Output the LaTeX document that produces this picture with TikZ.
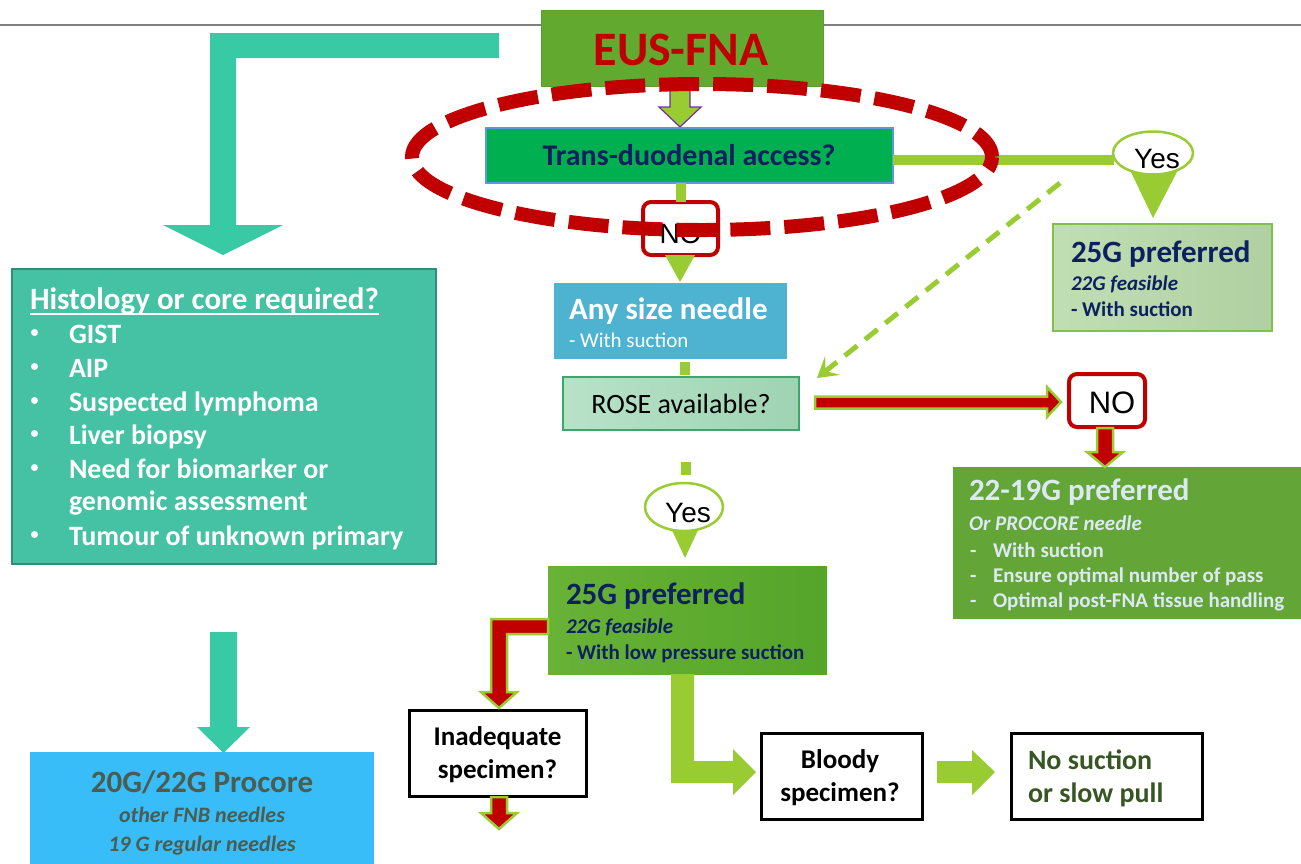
\documentclass[tikz,border=0pt]{standalone}
\usepackage{fontspec}
\setmainfont{Carlito}
\newfontfamily\arialf{Liberation Sans}
\usetikzlibrary{arrows.meta,calc,shapes.geometric}
\definecolor{cTeal}{HTML}{38C9A5}
\definecolor{cHist}{HTML}{45C1A3}
\definecolor{cHistB}{HTML}{2E8F74}
\definecolor{cEus}{HTML}{62AA2F}
\definecolor{cEusB}{HTML}{5A9E2C}
\definecolor{cRed}{HTML}{C00000}
\definecolor{cTD}{HTML}{00B050}
\definecolor{cTDB}{HTML}{5B9BD5}
\definecolor{cNavy}{HTML}{0D2160}
\definecolor{cLG}{HTML}{99CC33}
\definecolor{cPurp}{HTML}{7030A0}
\definecolor{cAny}{HTML}{4EB3D1}
\definecolor{cRoseL}{HTML}{B8E2C8}
\definecolor{cRoseR}{HTML}{9FD3B2}
\definecolor{cRoseB}{HTML}{3BA86B}
\definecolor{cTwA}{HTML}{B9DBAA}
\definecolor{cTwAB}{HTML}{7EC24C}
\definecolor{cTtN}{HTML}{63A537}
\definecolor{cTtNT}{HTML}{DCE9F3}
\definecolor{cTwBL}{HTML}{68B236}
\definecolor{cTwBR}{HTML}{55A52A}
\definecolor{cProc}{HTML}{38BDF8}
\definecolor{cProcT}{HTML}{4B5C50}
\definecolor{cNoS}{HTML}{375623}
\newcommand\fBig{\bfseries\fontsize{31}{36}\selectfont}
\newcommand\fSubB{\bfseries\fontsize{21}{25}\selectfont}
\newcommand\fSubI{\bfseries\itshape\fontsize{21}{25}\selectfont}
\newcommand\fSubR{\fontsize{21}{25}\selectfont}
\newcommand\fBul{\bfseries\fontsize{28}{33}\selectfont}
\newcommand\fQ{\bfseries\fontsize{27}{32}\selectfont}
\newcommand\fYN{\arialf\fontsize{28}{32}\selectfont}
\begin{document}
\begin{tikzpicture}[x=1pt,y=-1pt,
  box/.style={rectangle, anchor=north west, inner sep=0pt, outer sep=0pt},
  lbl/.style={anchor=base west, inner sep=0pt, outer sep=0pt},
  clbl/.style={anchor=base, inner sep=0pt, outer sep=0pt},
  gconn/.style={draw=cLG, line width=10pt},
  redblk/.style={fill=cRed, draw=cLG, line width=2.5pt, line join=miter},
  tealblk/.style={fill=cTeal},
  greenblk/.style={fill=cLG},
  nobox/.style={box, draw=cRed, line width=4pt, rounded corners=8pt, fill=white},
  yesell/.style={ellipse, draw=cLG, line width=2.5pt, fill=white, inner sep=0pt},
  qbox/.style={box, draw=black, line width=3pt, fill=white},
  bulletdot/.style={circle, fill=white, minimum size=7pt, inner sep=0pt}
]
\useasboundingbox (0,0) rectangle (1301,863);

% top rule
\coordinate (ruleL) at (0,25);
\coordinate (ruleR) at (1301,25);
\draw[draw=gray, line width=1.5pt] (ruleL) -- (ruleR);

% teal arrows
\fill[tealblk] (499,33) -- (210,33) -- (210,225) -- (163,225) -- (223,255) -- (283,225) -- (236,225) -- (236,58) -- (499,58) -- cycle;
\fill[tealblk] (210,632) -- (210,727) -- (197,727) -- (223.5,753) -- (250,727) -- (237,727) -- (237,632) -- cycle;

% EUS -> TD arrow
\filldraw[fill=cLG, draw=cPurp, line width=1.2pt] (670,80) -- (670,107) -- (659,107) -- (680,127) -- (701,107) -- (690,107) -- (690,80) -- cycle;

% boxes
\node[box, fill=cEus, draw=cEusB, line width=1pt, minimum width=282pt, minimum height=76pt] (eus) at (541,10) {};
\node[box, fill=cTD, draw=cTDB, line width=1.5pt, minimum width=407pt, minimum height=55pt] (td) at (486,128) {};
\node[box, fill=cHist, draw=cHistB, line width=2.5pt, minimum width=424pt, minimum height=295pt] (hist) at (12,269) {};
\node[box, fill=cAny, minimum width=233pt, minimum height=76pt] (any) at (554,283) {};
\node[box, left color=cRoseL, right color=cRoseR, draw=cRoseB, line width=2pt, minimum width=236pt, minimum height=53pt] (rose) at (563,377) {};
\node[box, left color=cTwA!90!white, right color=cTwA!95!black, draw=cTwAB, line width=2pt, minimum width=219pt, minimum height=107pt] (twa) at (1053,224) {};
\node[box, fill=cTtN, minimum width=350pt, minimum height=152pt] (ttn) at (953,467) {};
\node[box, left color=cTwBL, right color=cTwBR, minimum width=279pt, minimum height=108pt] (twb) at (548,566) {};
\node[qbox, minimum width=177pt, minimum height=86pt] (inad) at (409,710) {};
\node[qbox, minimum width=161pt, minimum height=86pt] (bloody) at (761,733) {};
\node[qbox, minimum width=191pt, minimum height=86pt] (nos) at (1011,733) {};
\node[box, fill=cProc, minimum width=344pt, minimum height=130pt] (proc) at (30,752) {};

% texts
\node[clbl, text=cRed, font=\bfseries\fontsize{48}{52}\selectfont] (eust) at (681,65) {EUS-FNA};
\node[clbl, text=cNavy, font=\bfseries\fontsize{30}{34}\selectfont] (tdt) at (689,165) {Trans-duodenal access?};

\node[lbl, text=white, font=\bfseries\fontsize{31}{36}\selectfont] (histt) at (30,309) {Histology or core required?};
\draw[white, line width=1.8pt] ($(histt.base west)+(0,5)$) -- ($(histt.base east)+(0,5)$);
\foreach \nm/\yy/\tx in {b1/343/GIST, b2/377/AIP, b3/411/Suspected lymphoma, b4/444/Liver biopsy, b5/478/Need for biomarker or, b7/545/Tumour of unknown primary}{
  \node[bulletdot] (\nm d) at (34.5,\yy-10.5) {};
  \node[lbl, text=white, font=\fBul] (\nm) at (69,\yy) {\tx};
}
\node[lbl, text=white, font=\fBul] (b6) at (69,510) {genomic assessment};

\node[lbl, text=white, font=\fBig] (anyt) at (569,319) {Any size needle};
\node[lbl, text=white, font=\fSubR] (anys) at (569,347) {- With suction};
\node[clbl, text=black, font=\fontsize{28}{32}\selectfont] (roset) at (681,413) {ROSE available?};

\node[lbl, text=cNavy, font=\fBig] (twat) at (1071,262) {25G preferred};
\node[lbl, text=cNavy, font=\fSubI] (twaf) at (1071,290) {22G feasible};
\node[lbl, text=cNavy, font=\fSubB] (twas) at (1071,316) {- With suction};

\node[lbl, text=cTtNT, font=\fBig] (ttnt) at (969,500) {22-19G preferred};
\node[lbl, text=cTtNT, font=\fSubI] (ttno) at (969,530) {Or PROCORE needle};
\foreach \nm/\yy/\tx in {l1/557/With suction, l2/582/Ensure optimal number of pass, l3/607/Optimal post-FNA tissue handling}{
  \node[lbl, text=cTtNT, font=\fSubB] (\nm d) at (970,\yy) {-};
  \node[lbl, text=cTtNT, font=\fSubB] (\nm) at (993,\yy) {\tx};
}

\node[lbl, text=cNavy, font=\fBig] (twbt) at (566,604) {25G preferred};
\node[lbl, text=cNavy, font=\fSubI] (twbf) at (566,633) {22G feasible};
\node[lbl, text=cNavy, font=\fSubB] (twbs) at (566,659) {- With low pressure suction};

\node[clbl, font=\fQ] (inad1) at (497.5,745) {Inadequate};
\node[clbl, font=\fQ] (inad2) at (497.5,778) {specimen?};
\node[clbl, font=\fQ] (bl1) at (840,768) {Bloody};
\node[clbl, font=\fQ] (bl2) at (840,801) {specimen?};
\node[lbl, text=cNoS, font=\bfseries\fontsize{28}{32}\selectfont] (nos1) at (1028,769) {No suction};
\node[lbl, text=cNoS, font=\bfseries\fontsize{28}{32}\selectfont] (nos2) at (1028,802) {or slow pull};

\node[clbl, text=cProcT, font=\fBig] (proc1) at (202,792) {20G/22G Procore};
\node[clbl, text=cProcT, font=\bfseries\itshape\fontsize{22}{26}\selectfont] (proc2) at (202,822) {other FNB needles};
\node[clbl, text=cProcT, font=\bfseries\itshape\fontsize{22}{26}\selectfont] (proc3) at (202,851) {19 G regular needles};

% connectors: TD -> NO
\node[nobox, minimum width=75pt, minimum height=53pt] (no1) at (643,202) {};
\draw[gconn] (td.south -| no1.north) -- (no1.north);
\node[clbl, font=\fYN] (no1t) at (680.5,243) {NO};
\fill[greenblk] (665,255) -- (695,255) -- (680,282) -- cycle;

% TD -> Yes
\coordinate (y160) at (0,160);
\fill[greenblk] (1130,170) -- (1178,170) -- (1153,218) -- cycle;
\node[yesell, minimum width=80pt, minimum height=43pt] (yes1) at (1153,153) {};
\draw[gconn] (td.east |- y160) -- ($(yes1.west |- y160)+(2,0)$);
\node[clbl, font=\fYN] (yes1t) at (1157,168) {Yes};

% any -> rose small square
\coordinate (sq1a) at (685,362);
\coordinate (sq1b) at (685,375);
\draw[gconn] (sq1a) -- (sq1b);
% rose -> yes2
\coordinate (sq2a) at (686,462);
\coordinate (sq2b) at (686,475);
\draw[gconn] (sq2a) -- (sq2b);
\fill[greenblk] (670,526) -- (700,526) -- (685,558) -- cycle;
\node[yesell, minimum width=78pt, minimum height=48pt] (yes2) at (684,507) {};
\node[clbl, font=\fYN] (yes2t) at (688,522) {Yes};

% dashed arrow
\coordinate (dstart) at (1060,183);
\coordinate (dend) at (817,378);
\draw[draw=cLG, line width=5pt, dash pattern=on 16pt off 10pt, -{Stealth[length=20pt,width=24pt,inset=9pt]}] (dstart) -- (dend);

% ROSE -> NO red arrow
\node[nobox, minimum width=76pt, minimum height=53pt] (no2) at (1069,374) {};
\node[clbl, font=\arialf\fontsize{31}{34}\selectfont] (no2t) at (1112,413) {NO};
\filldraw[redblk] (815,396.5) -- (1047,396.5) -- (1047,387) -- (1061,402) -- (1047,417) -- (1047,408.5) -- (815,408.5) -- cycle;
\filldraw[redblk] (1097,428) -- (1097,452) -- (1087,452) -- (1105,467) -- (1123,452) -- (1113,452) -- (1113,428) -- cycle;

% 25G -> inadequate red L arrow
\filldraw[redblk] (548,619) -- (491,619) -- (491,692) -- (481,692) -- (499,708) -- (517,692) -- (507,692) -- (507,634) -- (548,634) -- cycle;
\filldraw[redblk] (491,797) -- (491,813) -- (481,813) -- (499,829) -- (517,813) -- (507,813) -- (507,797) -- cycle;

% 25G -> bloody green L arrow
\fill[greenblk] (671,674) -- (671,783) -- (733,783) -- (733,795) -- (756,772) -- (733,749) -- (733,761) -- (694,761) -- (694,674) -- cycle;
% bloody -> no suction
\fill[greenblk] (937,761) -- (972,761) -- (972,750) -- (995,772) -- (972,795) -- (972,783) -- (937,783) -- cycle;

% red dashed ellipse
\draw[draw=cRed, line width=14pt, dash pattern=on 40pt off 14pt, dash phase=10pt] (702,157) ellipse [x radius=290pt, y radius=73pt];
\end{tikzpicture}
\end{document}
